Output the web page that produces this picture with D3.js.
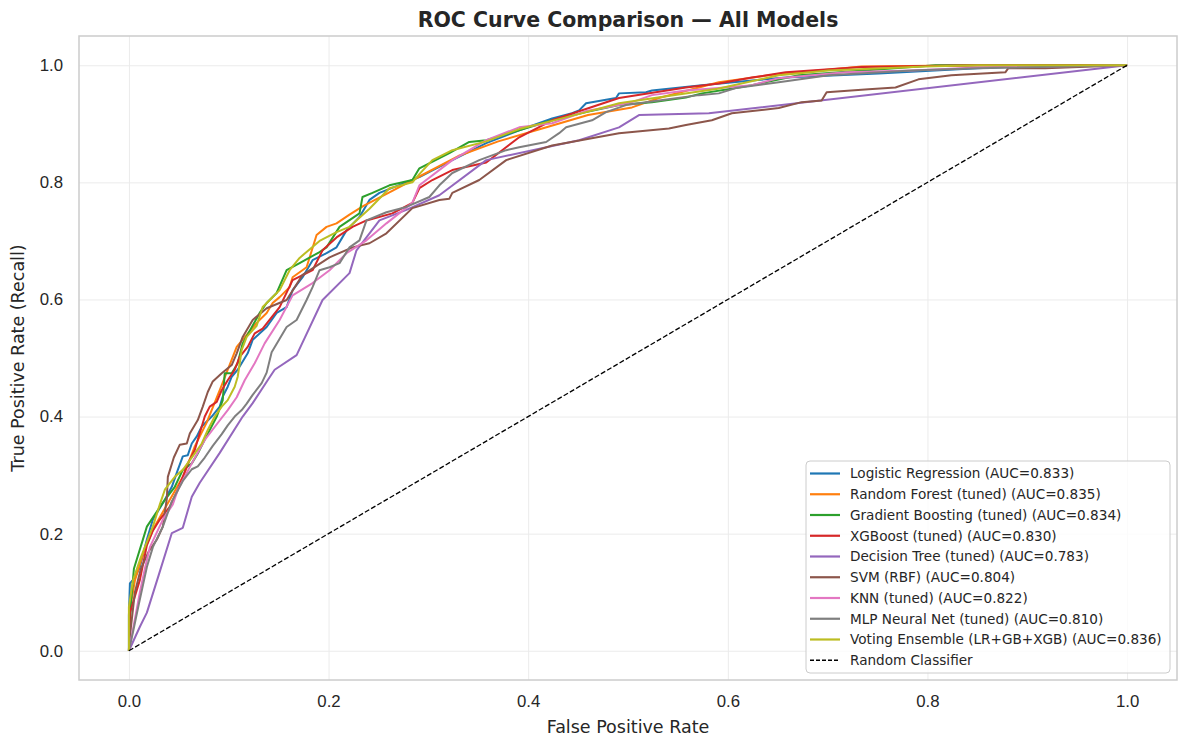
<!DOCTYPE html>
<html>
<head>
<meta charset="utf-8">
<script src="https://cdn.jsdelivr.net/npm/d3@7"></script>
<style>
    body { margin: 0; background: #fff; }
    svg { font-family: "DejaVu Sans", sans-serif; }
    .grid line { stroke: #ebebeb; stroke-width: 1; }
    .grid .domain { display: none; }
    .axis .domain { display: none; }
    .axis text { fill: #262626; font-size: 16.8px; }
    .roc-line { fill: none; stroke-width: 2; stroke-linejoin: round; }
</style>
</head>
<body>
<div id="chart"><svg></svg></div>
<script>
// model names, AUC labels and colours (legend order = draw order)
var modelNames = [
    "Logistic Regression (AUC=0.833)",
    "Random Forest (tuned) (AUC=0.835)",
    "Gradient Boosting (tuned) (AUC=0.834)",
    "XGBoost (tuned) (AUC=0.830)",
    "Decision Tree (tuned) (AUC=0.783)",
    "SVM (RBF) (AUC=0.804)",
    "KNN (tuned) (AUC=0.822)",
    "MLP Neural Net (tuned) (AUC=0.810)",
    "Voting Ensemble (LR+GB+XGB) (AUC=0.836)"
];
var modelColors = ["#1f77b4", "#ff7f0e", "#2ca02c", "#d62728", "#9467bd",
    "#8c564b", "#e377c2", "#7f7f7f", "#bcbd22"];

var tickValues = [0, 0.2, 0.4, 0.6, 0.8, 1.0];
var tickLabels = ["0.0", "0.2", "0.4", "0.6", "0.8", "1.0"];

// [fpr, tpr] points
var rocLogistic = [[0,0],[0,0.06],[0.001,0.115],[0.006,0.125],[0.011,0.143],[0.018,0.19],[0.024,0.224],
    [0.035,0.255],[0.043,0.28],[0.049,0.309],[0.054,0.332],[0.059,0.334],[0.063,0.354],[0.068,0.366],
    [0.073,0.383],[0.083,0.40],[0.091,0.417],[0.094,0.434],[0.099,0.451],[0.103,0.468],[0.109,0.48],
    [0.114,0.494],[0.119,0.508],[0.124,0.531],[0.138,0.553],[0.148,0.577],[0.158,0.587],[0.164,0.616],
    [0.174,0.638],[0.184,0.667],[0.198,0.679],[0.208,0.689],[0.218,0.718],[0.231,0.741],[0.241,0.770],
    [0.251,0.782],[0.291,0.809],[0.324,0.838],[0.358,0.867],[0.391,0.889],[0.424,0.909],[0.444,0.918],
    [0.451,0.923],[0.458,0.935],[0.488,0.944],[0.491,0.952],[0.518,0.954],[0.524,0.957],[0.574,0.966],
    [0.624,0.974],[0.658,0.979],[0.751,0.986],[0.85,0.995],[0.92,1],[1,1]];

var rocForest = [[0,0],[0.001,0.07],[0.006,0.12],[0.015,0.17],[0.025,0.21],[0.035,0.24],[0.045,0.27],
    [0.055,0.30],[0.066,0.349],[0.078,0.39],[0.091,0.445],[0.108,0.519],[0.128,0.560],[0.138,0.577],
    [0.144,0.594],[0.151,0.604],[0.161,0.621],[0.164,0.638],[0.178,0.655],[0.188,0.71],[0.198,0.724],
    [0.208,0.73],[0.221,0.745],[0.235,0.76],[0.261,0.783],[0.291,0.81],[0.33,0.845],[0.37,0.87],
    [0.42,0.895],[0.46,0.915],[0.504,0.928],[0.531,0.944],[0.591,0.971],[0.641,0.983],[0.734,0.998],
    [0.85,1],[1,1]];

var rocBoosting = [[0,0],[0.002,0.08],[0.005,0.14],[0.018,0.212],[0.034,0.253],[0.046,0.28],[0.054,0.309],
    [0.063,0.32],[0.069,0.337],[0.074,0.354],[0.081,0.377],[0.088,0.40],[0.094,0.428],[0.096,0.474],
    [0.103,0.474],[0.109,0.491],[0.114,0.525],[0.131,0.577],[0.138,0.594],[0.148,0.611],[0.158,0.650],
    [0.171,0.662],[0.191,0.681],[0.198,0.689],[0.211,0.724],[0.231,0.747],[0.234,0.775],[0.244,0.782],
    [0.261,0.795],[0.284,0.804],[0.291,0.824],[0.321,0.850],[0.341,0.869],[0.358,0.872],[0.391,0.889],
    [0.424,0.906],[0.458,0.920],[0.491,0.932],[0.524,0.937],[0.558,0.945],[0.574,0.952],[0.608,0.961],
    [0.624,0.966],[0.671,0.983],[0.808,1],[1,1]];

var rocXgb = [[0,0],[0.001,0.065],[0.011,0.121],[0.018,0.18],[0.024,0.205],[0.031,0.224],[0.041,0.246],
    [0.049,0.275],[0.054,0.297],[0.059,0.32],[0.066,0.343],[0.071,0.372],[0.076,0.40],[0.081,0.417],
    [0.088,0.425],[0.093,0.445],[0.099,0.462],[0.106,0.48],[0.111,0.502],[0.119,0.519],[0.126,0.542],
    [0.134,0.55],[0.151,0.587],[0.164,0.633],[0.184,0.650],[0.194,0.684],[0.208,0.706],[0.224,0.724],
    [0.238,0.735],[0.264,0.747],[0.284,0.765],[0.291,0.79],[0.304,0.804],[0.324,0.821],[0.358,0.834],
    [0.391,0.877],[0.424,0.906],[0.491,0.944],[0.558,0.962],[0.591,0.969],[0.624,0.979],[0.658,0.988],
    [0.734,0.997],[0.85,1],[1,1]];

var rocTree = [[0,0],[0.011,0.041],[0.018,0.065],[0.030,0.13],[0.043,0.201],[0.054,0.210],[0.063,0.263],
    [0.071,0.287],[0.091,0.338],[0.114,0.40],[0.124,0.423],[0.139,0.462],[0.146,0.48],[0.168,0.505],
    [0.194,0.599],[0.221,0.645],[0.228,0.684],[0.251,0.735],[0.278,0.753],[0.311,0.778],[0.358,0.838],
    [0.451,0.872],[0.491,0.894],[0.511,0.915],[0.581,0.918],[1,1]];

var rocSvm = [[0,0],[0.002,0.04],[0.006,0.10],[0.012,0.14],[0.02,0.17],[0.028,0.19],[0.031,0.201],
    [0.034,0.212],[0.038,0.26],[0.039,0.297],[0.045,0.33],[0.051,0.352],[0.058,0.354],[0.061,0.371],
    [0.069,0.394],[0.074,0.417],[0.079,0.442],[0.084,0.46],[0.093,0.474],[0.103,0.488],[0.108,0.508],
    [0.114,0.536],[0.124,0.565],[0.138,0.585],[0.158,0.599],[0.174,0.642],[0.201,0.672],[0.224,0.689],
    [0.241,0.696],[0.258,0.713],[0.284,0.756],[0.311,0.770],[0.321,0.772],[0.324,0.782],[0.351,0.804],
    [0.378,0.838],[0.424,0.863],[0.491,0.884],[0.541,0.892],[0.558,0.898],[0.584,0.906],[0.604,0.918],
    [0.651,0.927],[0.674,0.937],[0.694,0.940],[0.699,0.954],[0.741,0.959],[0.768,0.962],[0.791,0.976],
    [0.824,0.983],[0.878,0.988],[0.881,0.995],[0.918,0.995],[1,1]];

var rocKnn = [[0,0],[0.004,0.036],[0.011,0.10],[0.016,0.14],[0.021,0.177],[0.034,0.224],[0.044,0.250],
    [0.049,0.275],[0.063,0.32],[0.076,0.36],[0.089,0.389],[0.099,0.411],[0.108,0.433],[0.116,0.462],
    [0.126,0.491],[0.136,0.525],[0.151,0.565],[0.164,0.607],[0.184,0.628],[0.201,0.650],[0.218,0.679],
    [0.238,0.701],[0.258,0.730],[0.284,0.765],[0.291,0.795],[0.324,0.838],[0.358,0.872],[0.391,0.894],
    [0.424,0.901],[0.458,0.922],[0.478,0.928],[0.504,0.937],[0.524,0.949],[0.558,0.957],[0.591,0.961],
    [0.624,0.966],[0.651,0.978],[0.718,0.988],[0.784,0.991],[0.85,0.996],[1,1]];

var rocMlp = [[0,0],[0.004,0.031],[0.010,0.08],[0.018,0.143],[0.024,0.177],[0.034,0.212],[0.043,0.255],
    [0.054,0.29],[0.063,0.31],[0.069,0.315],[0.076,0.33],[0.084,0.35],[0.093,0.37],[0.099,0.385],
    [0.106,0.40],[0.113,0.411],[0.118,0.422],[0.124,0.437],[0.133,0.457],[0.138,0.475],[0.143,0.51],
    [0.158,0.553],[0.168,0.565],[0.178,0.599],[0.184,0.621],[0.191,0.650],[0.201,0.655],[0.211,0.662],
    [0.221,0.689],[0.231,0.701],[0.238,0.735],[0.258,0.749],[0.278,0.758],[0.301,0.775],[0.311,0.795],
    [0.324,0.816],[0.351,0.838],[0.378,0.855],[0.391,0.860],[0.418,0.869],[0.431,0.884],[0.438,0.894],
    [0.464,0.906],[0.478,0.920],[0.498,0.932],[0.531,0.940],[0.571,0.949],[0.591,0.952],[0.608,0.961],
    [0.651,0.971],[0.701,0.983],[0.784,0.991],[0.85,0.995],[1,1]];

var rocVoting = [[0,0],[0,0.075],[0.004,0.12],[0.011,0.155],[0.024,0.212],[0.031,0.25],[0.036,0.275],
    [0.046,0.297],[0.054,0.309],[0.066,0.337],[0.073,0.354],[0.079,0.377],[0.086,0.40],[0.093,0.417],
    [0.099,0.428],[0.106,0.451],[0.109,0.468],[0.111,0.491],[0.113,0.514],[0.118,0.536],[0.128,0.555],
    [0.134,0.587],[0.151,0.616],[0.161,0.650],[0.171,0.671],[0.191,0.70],[0.208,0.715],[0.221,0.724],
    [0.241,0.755],[0.261,0.79],[0.284,0.80],[0.291,0.814],[0.304,0.838],[0.324,0.855],[0.358,0.87],
    [0.391,0.891],[0.424,0.905],[0.458,0.92],[0.491,0.935],[0.53,0.945],[0.59,0.96],[0.651,0.983],
    [0.701,0.991],[0.798,0.998],[0.85,1],[1,1]];

var rocRandom = [[0,0],[1,1]];
var randomName = "Random Classifier";

var modelCurves = [rocLogistic, rocForest, rocBoosting, rocXgb, rocTree, rocSvm, rocKnn, rocMlp, rocVoting];

var svg = d3.select("#chart svg")
    .attr("width", 1188)
    .attr("height", 748);

var margin = {
        top: 36,
        right: 11,
        bottom: 68,
        left: 79
    },
    width = 1188 - margin.left - margin.right,
    height = 748 - margin.top - margin.bottom;

var x = d3.scaleLinear().domain([-0.05, 1.05]).range([0, width]),
    y = d3.scaleLinear().domain([-0.05, 1.05]).range([height, 0]);

var g = svg.append("g")
    .attr("transform", "translate(" + margin.left + "," + margin.top + ")");

// grid
g.append("g")
    .attr("class", "grid")
    .attr("transform", "translate(0," + height + ")")
    .call(d3.axisBottom(x).tickValues(tickValues).tickSize(-height).tickFormat(""));

g.append("g")
    .attr("class", "grid")
    .call(d3.axisLeft(y).tickValues(tickValues).tickSize(-width).tickFormat(""));

// axes (labels only, no tick marks)
g.append("g")
    .attr("class", "axis axis--x")
    .attr("transform", "translate(0," + height + ")")
    .call(d3.axisBottom(x).tickValues(tickValues).tickSize(0).tickPadding(15)
        .tickFormat(function(d, i) { return tickLabels[i]; }));

g.append("g")
    .attr("class", "axis axis--y")
    .call(d3.axisLeft(y).tickValues(tickValues).tickSize(0).tickPadding(16)
        .tickFormat(function(d, i) { return tickLabels[i]; }));

var line = d3.line()
    .x(function(d) { return x(d[0]); })
    .y(function(d) { return y(d[1]); });

g.selectAll(".roc-line")
    .data(modelCurves)
    .enter()
    .append("path")
    .attr("class", "roc-line")
    .attr("d", function(d) { return line(d); })
    .style("stroke", function(d, i) { return modelColors[i]; });

g.append("path")
    .attr("d", line(rocRandom))
    .attr("fill", "none")
    .attr("stroke", "#000")
    .attr("stroke-width", 1.3)
    .attr("stroke-dasharray", "5,2.2");

// frame
g.append("rect")
    .attr("width", width)
    .attr("height", height)
    .attr("fill", "none")
    .attr("stroke", "#cccccc")
    .attr("stroke-width", 1.5);

// titles
svg.append("text")
    .attr("x", margin.left + width / 2)
    .attr("y", 27)
    .attr("text-anchor", "middle")
    .attr("font-weight", "bold")
    .attr("font-size", "20.5px")
    .attr("fill", "#262626")
    .text("ROC Curve Comparison — All Models");

svg.append("text")
    .attr("x", margin.left + width / 2)
    .attr("y", 733)
    .attr("text-anchor", "middle")
    .attr("font-size", "17.5px")
    .attr("fill", "#262626")
    .text("False Positive Rate");

svg.append("text")
    .attr("transform", "translate(24," + (margin.top + height / 2) + ") rotate(-90)")
    .attr("text-anchor", "middle")
    .attr("font-size", "17.5px")
    .attr("fill", "#262626")
    .text("True Positive Rate (Recall)");

// legend
var legendItems = modelNames.map(function(n, i) {
    return { name: n, color: modelColors[i], dash: null };
});
legendItems.push({ name: randomName, color: "#000", dash: "4,2" });

var legend = svg.append("g")
    .attr("transform", "translate(806,461)");

legend.append("rect")
    .attr("width", 364)
    .attr("height", 212)
    .attr("rx", 4)
    .attr("fill", "#fff")
    .attr("fill-opacity", 0.8)
    .attr("stroke", "#cccccc")
    .attr("stroke-width", 1);

var rows = legend.selectAll(".legend-row")
    .data(legendItems)
    .enter()
    .append("g")
    .attr("class", "legend-row")
    .attr("transform", function(d, i) { return "translate(0," + (12.5 + i * 20.75) + ")"; });

rows.append("line")
    .attr("x1", 4)
    .attr("x2", 34)
    .attr("stroke", function(d) { return d.color; })
    .attr("stroke-width", function(d) { return d.dash ? 1.3 : 2.2; })
    .attr("stroke-dasharray", function(d) { return d.dash; });

rows.append("text")
    .attr("x", 44)
    .attr("dy", "0.35em")
    .attr("font-size", "13.6px")
    .attr("fill", "#262626")
    .text(function(d) { return d.name; });
</script>
</body>
</html>
